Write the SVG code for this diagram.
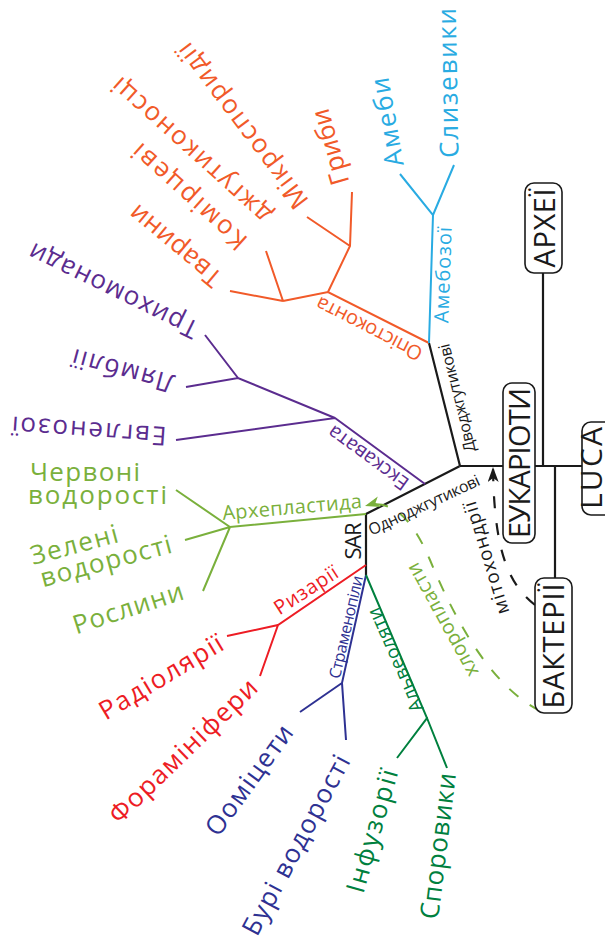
<svg xmlns="http://www.w3.org/2000/svg" width="605" height="946" viewBox="0 0 605 946">
<style>
.l{fill:none;stroke-width:2;stroke-linecap:butt;stroke-linejoin:miter}
.k{stroke:#1a1a1a;stroke-width:2.2}
.o{stroke:#f15a29}.b{stroke:#29abe2}.p{stroke:#5b2c8f}.g{stroke:#7ab03c}.r{stroke:#ed1c24}.n{stroke:#2e3192}.d{stroke:#00803e}
text{font-family:"Open Sans","Liberation Sans",sans-serif;text-anchor:middle}
.big{font-size:26px}.mid{font-size:20px}.sm{font-size:16px}.box{font-size:29px}
.fo{fill:#f15a29}.fb{fill:#29abe2}.fp{fill:#5b2c8f}.fg{fill:#7ab03c}.fr{fill:#ed1c24}.fn{fill:#2e3192}.fd{fill:#00803e}.fk{fill:#1a1a1a}
.bx{fill:#fff;stroke:#1a1a1a;stroke-width:1.6}
</style>
<defs>
<marker id="ak" markerUnits="userSpaceOnUse" markerWidth="16" markerHeight="12" refX="15" refY="5.5" orient="auto"><path d="M0,0 L15,5.5 L0,11 L4,5.5 Z" fill="#1a1a1a"/></marker>
<marker id="ag" markerUnits="userSpaceOnUse" markerWidth="16" markerHeight="12" refX="15" refY="5.5" orient="auto"><path d="M0,0 L15,5.5 L0,11 L4,5.5 Z" fill="#7ab03c"/></marker>
</defs>
<rect width="605" height="946" fill="#fff"/>
<g id="connectors">
<path class="l k" d="M460,466 L429,343 M460,466 L366,514 L366,575 M460,466 L503,466 M535,466 L582,466 M543,273 L543,466 M555,466 L555,578"/>
<path class="l o" d="M429,343 L328,292 L283,301 M328,292 L350,246 L352,192 M350,246 L307,217 M283,301 L230,291 M283,301 L266,251"/>
<path class="l b" d="M429,343 L433,215 L400,174 M433,215 L454,165"/>
<path class="l p" d="M425,484 L335,418 L176,440 M335,418 L238,378 L186,387 M238,378 L205,335"/>
<path class="l g" d="M366,514 L230,527 L176,490 M230,527 L185,540 M230,527 L203,591"/>
<path class="l r" d="M366,565 L278,625 L227,636 M278,625 L260,676"/>
<path class="l n" d="M366,575 L342,683 L300,712 M342,683 L346,740"/>
<path class="l d" d="M366,575 L427,718 L397,758 M427,718 L447,768"/>
<path class="l k" stroke-width="2" stroke-dasharray="12 15" d="M535,605 C510,585 494,555 493,467" marker-end="url(#ak)"/>
<path class="l g" stroke-dasharray="12 14" d="M540,711 C490,685 455,620 430,560 C415,525 395,497 365,506" marker-end="url(#ag)"/>
</g>
<g id="luca"><rect class="bx" x="582" y="422" width="40" height="93" rx="9"/><text class="box fk" style="font-size:30px" transform="translate(591,468) rotate(-90)" dy="0.35em" textLength="82">LUCA</text></g>
<g id="archaea"><rect class="bx" x="525" y="183" width="37" height="90" rx="9"/><text class="box fk" transform="translate(545,228) rotate(-90)" dy="0.35em" textLength="79">АРХЕЇ</text></g>
<g id="eukaryotes"><rect class="bx" x="503" y="383" width="32" height="160" rx="9"/><text class="box fk" transform="translate(520,463) rotate(-90)" dy="0.35em" textLength="150">ЕУКАРІОТИ</text></g>
<g id="bacteria"><rect class="bx" x="535" y="578" width="37" height="135" rx="9"/><text class="box fk" transform="translate(554,646) rotate(-90)" dy="0.35em" textLength="125">БАКТЕРІЇ</text></g>
<g id="bikonts"><text class="sm fk" transform="translate(457,398) rotate(-104)" dy="0.35em" textLength="111">Дводжгутикові</text></g>
<g id="unikonts"><text class="sm fk" transform="translate(424,505) rotate(-25)" dy="0.35em" textLength="121">Одноджгутикові</text></g>
<g id="sar"><text class="fk" style="font-size:22px" transform="translate(353,541) rotate(-90)" dy="0.35em" textLength="37">SAR</text></g>
<g id="mitochondria"><text class="mid fk" style="font-size:19px" transform="translate(486,558) rotate(-107)" dy="0.35em" textLength="117">мітохондрії</text></g>
<g id="chloroplasts"><text class="mid fg" transform="translate(442,620) rotate(-119)" dy="0.35em" textLength="127">хлоропласти</text></g>
<g id="opisthokonta"><text class="mid fo" transform="translate(369,329) rotate(-153)" dy="0.35em" textLength="117">Опістоконта</text></g>
<g id="microsporidia"><text class="big fo" transform="translate(242,126) rotate(-127)" dy="0.35em" textLength="200">Мікроспоридії</text></g>
<g id="fungi"><text class="big fo" transform="translate(330,147) rotate(-106)" dy="0.35em" textLength="78">Гриби</text></g>
<g id="choanoflagellates"><text class="big fo" transform="translate(189,197) rotate(-138)" dy="0.35em" textLength="145">Комірцеві</text><text class="big fo" transform="translate(191,151) rotate(-138)" dy="0.35em" textLength="205">джгутиконосці</text></g>
<g id="animals"><text class="big fo" transform="translate(175,246) rotate(-140)" dy="0.35em" textLength="112">Тварини</text></g>
<g id="amoebozoa"><text class="mid fb" transform="translate(443,275) rotate(-88)" dy="0.35em" textLength="96">Амебозої</text></g>
<g id="amoebae"><text class="big fb" transform="translate(387,122) rotate(-100)" dy="0.35em" textLength="90">Амеби</text></g>
<g id="slime-molds"><text class="big fb" transform="translate(448,83) rotate(-91)" dy="0.35em" textLength="150">Слизевики</text></g>
<g id="excavata"><text class="mid fp" transform="translate(368,458) rotate(-144)" dy="0.35em" textLength="95">Екскавата</text></g>
<g id="trichomonads"><text class="big fp" transform="translate(113,291) rotate(-154)" dy="0.35em" textLength="185">Трихомонади</text></g>
<g id="giardia"><text class="big fp" transform="translate(123,371) rotate(-165)" dy="0.35em" textLength="105">Лямблії</text></g>
<g id="euglenozoa"><text class="big fp" transform="translate(89,431) rotate(-176)" dy="0.35em" textLength="155">Евгленозої</text></g>
<g id="archaeplastida"><text class="mid fg" transform="translate(292,507) rotate(-5)" dy="0.35em" textLength="140">Архепластида</text></g>
<g id="red-algae"><text class="big fg" style="text-anchor:start"><tspan x="30" y="481" textLength="110">Червоні</tspan><tspan x="28" y="504" textLength="139">водорості</tspan></text></g>
<g id="green-algae"><text class="big fg" style="text-anchor:start" transform="translate(33,565) rotate(-15)"><tspan x="0" y="0" textLength="90">Зелені</tspan><tspan x="4" y="24" textLength="135">водорості</tspan></text></g>
<g id="plants"><text class="big fg" transform="translate(128,608) rotate(-18)" dy="0.35em" textLength="115">Рослини</text></g>
<g id="rhizaria"><text class="mid fr" transform="translate(306,590) rotate(-33)" dy="0.35em" textLength="72">Ризарії</text></g>
<g id="radiolaria"><text class="big fr" transform="translate(161,677) rotate(-31)" dy="0.35em" textLength="140">Радіолярії</text></g>
<g id="foraminifera"><text class="big fr" transform="translate(183,751) rotate(-44)" dy="0.35em" textLength="195">Форамініфери</text></g>
<g id="stramenopiles"><text class="sm fn" transform="translate(346,627) rotate(-77)" dy="0.35em" textLength="105">Страменопіли</text></g>
<g id="oomycetes"><text class="big fn" transform="translate(249,780) rotate(-54)" dy="0.35em" textLength="130">Ооміцети</text></g>
<g id="brown-algae"><text class="big fn" transform="translate(296,845) rotate(-62)" dy="0.35em" textLength="200">Бурі водорості</text></g>
<g id="alveolata"><text class="mid fd" style="font-size:19px" transform="translate(395,660) rotate(-114)" dy="0.35em" textLength="112">Альвеоляти</text></g>
<g id="ciliates"><text class="big fd" transform="translate(372,831) rotate(-74)" dy="0.35em" textLength="127">Інфузорії</text></g>
<g id="apicomplexa"><text class="big fd" transform="translate(438,846) rotate(-83)" dy="0.35em" textLength="147">Споровики</text></g>
</svg>
